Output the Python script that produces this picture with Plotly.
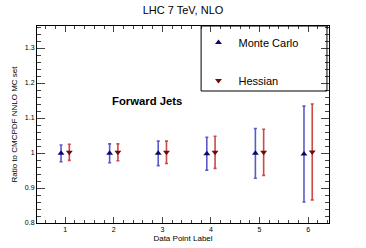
import plotly.graph_objects as go

points = [1, 2, 3, 4, 5, 6]
mc_vals = [0.999, 0.999, 0.999, 0.998, 0.999, 0.997]
mc_err = [0.024, 0.027, 0.035, 0.047, 0.071, 0.137]
hes_vals = [1.002, 1.002, 1.002, 1.002, 1.002, 1.003]
hes_err = [0.023, 0.024, 0.032, 0.046, 0.066, 0.137]
offset = 0.085

FONT = "Liberation Sans, Arial, Helvetica, sans-serif"

fig = go.Figure()
fig.add_trace(go.Scatter(
    x=[p - offset for p in points], y=mc_vals, mode="markers", name="Monte Carlo",
    marker=dict(symbol="triangle-up", size=6, color="#0a0a6e"),
    error_y=dict(type="data", array=mc_err, visible=True, color="#5b5bc8", thickness=1.6, width=1.5),
    legendgroup="a",
))
fig.add_trace(go.Scatter(
    x=[p + offset for p in points], y=hes_vals, mode="markers", name="Hessian",
    marker=dict(symbol="triangle-down", size=6, color="#6e0a0a"),
    error_y=dict(type="data", array=hes_err, visible=True, color="#c84b4b", thickness=1.6, width=1.5),
    legendgroup="b",
))

fig.add_shape(type="rect", xref="paper", yref="paper", x0=0.562, x1=0.993, y0=0.67, y1=1.0,
              line=dict(color="black", width=1), fillcolor="rgba(0,0,0,0)", layer="above")

fig.add_annotation(x=2.68, y=1.149, text="<b>Forward Jets</b>", showarrow=False,
                   font=dict(size=11.3, color="black", family=FONT))

fig.update_layout(
    width=366, height=248,
    margin=dict(l=37, r=37, t=26, b=25, autoexpand=False),
    paper_bgcolor="white", plot_bgcolor="white",
    font=dict(family=FONT, color="black"),
    title=dict(text="LHC 7 TeV, NLO", x=0.5, xanchor="center", y=0.96, yanchor="middle",
               font=dict(size=11, family=FONT)),
    showlegend=True,
    legend=dict(x=0.553, y=0.99, xanchor="left", yanchor="top", bgcolor="rgba(0,0,0,0)",
                borderwidth=0, font=dict(size=11, family=FONT), tracegroupgap=19,
                itemwidth=30, traceorder="grouped"),
    xaxis=dict(range=[0.42, 6.43], tickvals=points, ticks="inside", ticklen=6, mirror="allticks",
               showline=True, linecolor="black", linewidth=1, showgrid=False, zeroline=False,
               automargin=False,
               tickfont=dict(size=7), title=dict(text="Data Point Label", font=dict(size=8), standoff=2),
               minor=dict(dtick=0.2, ticks="inside", ticklen=3, showgrid=False)),
    yaxis=dict(range=[0.8, 1.363], tickvals=[0.8, 0.9, 1.0, 1.1, 1.2, 1.3],
               ticktext=["0.8", "0.9", "1", "1.1", "1.2", "1.3"],
               ticks="inside", ticklen=8, mirror="allticks",
               showline=True, linecolor="black", linewidth=1, showgrid=False, zeroline=False,
               automargin=False,
               tickfont=dict(size=7),
               title=dict(text="Ratio to CMCPDF NNLO MC set", font=dict(size=8), standoff=6),
               minor=dict(dtick=0.02, ticks="inside", ticklen=4, showgrid=False)),
)

fig.write_html("out.html", config={"displayModeBar": False},
               post_script="document.body.style.margin='0';document.body.style.padding='0';")
